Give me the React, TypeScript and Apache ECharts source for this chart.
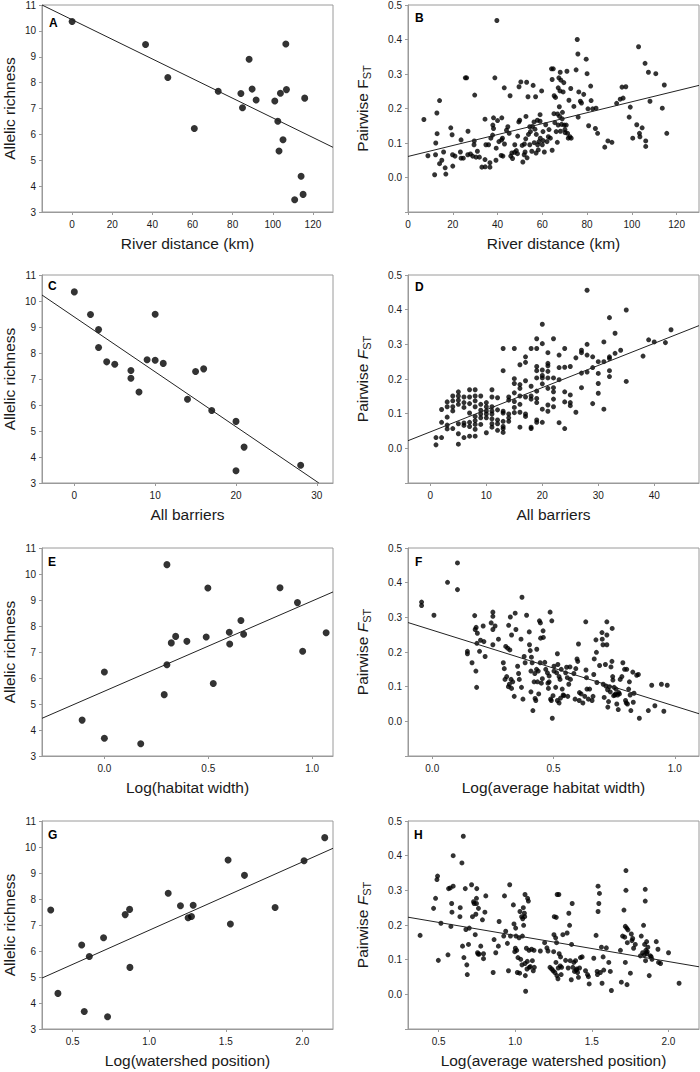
import React, { useEffect, useRef } from "react";
import * as echarts from "echarts";

// ---------- Data ----------
// Left column: allelic richness per site vs. predictor
const panelA: number[][] = [
  [0, 10.36], [36.6, 9.47], [47.7, 8.2], [60.9, 6.23], [72.8, 7.67], [84.1, 7.58], [84.9, 7.03],
  [88.2, 8.9], [89.7, 7.75], [91.7, 7.33], [101, 7.29], [102.5, 6.51], [103.1, 5.36], [103.8, 7.59],
  [106.5, 9.49], [106.8, 7.73], [105.1, 5.79], [115.9, 7.4], [114.1, 4.38], [115.1, 3.68], [110.9, 3.47],
];
const panelC: number[][] = [
  [0, 10.35], [2, 9.48], [3, 8.9], [3, 8.21], [4, 7.66], [5, 7.57], [7, 7.33], [7, 7.03], [8, 6.5],
  [9, 7.74], [10, 9.49], [10, 7.72], [11, 7.6], [14, 6.22], [15, 7.29], [16, 7.39], [17, 5.79],
  [20, 5.37], [20, 3.47], [21, 4.38], [28, 3.68],
];
const panelE: number[][] = [
  [-0.107, 4.38], [0, 6.23], [0, 3.68], [0.175, 3.47], [0.288, 5.36], [0.301, 10.36], [0.301, 6.51],
  [0.322, 7.35], [0.343, 7.6], [0.397, 7.41], [0.49, 7.58], [0.498, 9.46], [0.524, 5.79], [0.601, 7.76],
  [0.603, 7.31], [0.657, 8.21], [0.67, 7.68], [0.845, 9.47], [0.929, 8.9], [0.954, 7.03], [1.067, 7.74],
];
const panelG: number[][] = [
  [0.357, 7.58], [0.404, 4.37], [0.559, 6.23], [0.576, 3.67], [0.609, 5.79], [0.702, 6.51], [0.728, 3.47],
  [0.843, 7.4], [0.872, 7.6], [0.874, 5.37], [1.124, 8.22], [1.204, 7.74], [1.254, 7.28], [1.276, 7.33],
  [1.287, 7.76], [1.515, 9.5], [1.53, 7.04], [1.622, 8.91], [1.822, 7.67], [2.011, 9.47], [2.146, 10.36],
];

// Right column: pairwise FST vs. predictor
const panelB: number[][] = [
  [7.1,0.168],[8.9,0.063],[11.9,0.008],[12.4,0.100],[12.9,0.187],[13.0,0.127],[12.3,0.066],[14.1,0.223],[14.1,0.040],[15.1,0.050],
  [15.9,0.074],[16.6,0.028],[16.9,0.010],[19.1,0.144],[19.7,0.124],[20,0.033],[19.9,0.066],[21,0.062],[23.4,0.074],[23.7,0.109],
  [23.7,0.056],[24.7,0.056],[25.6,0.289],[26.2,0.289],[26.7,0.066],[26.8,0.134],[27.9,0.068],[28.9,0.062],[29.5,0.095],[29.6,0.106],
  [29.8,0.239],[30.4,0.059],[31,0.076],[31.9,0.059],[33,0.030],[34.4,0.052],[34.5,0.031],[34.4,0.169],[34.8,0.095],[36,0.095],
  [36.6,0.043],[36.6,0.030],[37,0.114],[37.8,0.123],[37.9,0.152],[38.2,0.173],[38.2,0.142],[38.8,0.289],[39.4,0.085],[39.7,0.455],
  [39.3,0.050],[40,0.165],[40.6,0.104],[41.6,0.064],[41.9,0.173],[41.8,0.109],[42.2,0.114],[42.4,0.062],[43,0.260],[43.1,0.097],
  [44,0.137],[44.6,0.147],[45.2,0.128],[45.6,0.237],[45.9,0.062],[46.4,0.071],[46.7,0.055],[47.6,0.073],[47.7,0.095],[48.4,0.078],
  [48.9,0.069],[49,0.120],[49.5,0.161],[49.6,0.263],[49.9,0.166],[50.4,0.277],[51,0.093],[51.3,0.045],[51.9,0.066],[52,0.097],
  [52.3,0.074],[52.6,0.112],[52.7,0.177],[53,0.276],[53.2,0.057],[53.6,0.234],[53.8,0.125],[54.4,0.147],[54.4,0.095],[54.7,0.133],
  [55.3,0.076],[55.6,0.148],[55.9,0.267],[56.3,0.161],[56.4,0.101],[56.7,0.140],[57,0.234],[57.2,0.071],[57.3,0.125],[57.8,0.166],
  [57.9,0.095],[58.2,0.080],[58.5,0.104],[59,0.182],[59,0.163],[59.1,0.114],[59.7,0.251],[60,0.095],[60.3,0.133],[60.4,0.107],
  [60.9,0.074],[61.5,0.153],[62.1,0.104],[62.7,0.118],[63,0.139],[63.6,0.114],[64.1,0.315],[64.4,0.284],[64.4,0.079],[64.9,0.315],
  [65.2,0.185],[65.3,0.237],[65.6,0.159],[65.9,0.232],[66.2,0.133],[66.7,0.102],[66.8,0.184],[67.1,0.152],[67.1,0.260],[67.4,0.289],
  [67.6,0.205],[67.7,0.177],[67.9,0.251],[68,0.305],[68.1,0.134],[68.3,0.282],[68.6,0.154],[68.9,0.170],[69,0.189],[69.3,0.248],
  [69.6,0.275],[69.8,0.152],[70.1,0.139],[70.2,0.130],[70.7,0.152],[71,0.308],[71.3,0.128],[71.6,0.114],[71.9,0.224],[72.3,0.118],
  [72.7,0.258],[72.9,0.114],[74.1,0.206],[75.1,0.312],[75.6,0.400],[75.9,0.358],[76,0.175],[76.3,0.248],[77,0.221],[77.5,0.216],
  [78.5,0.241],[79.6,0.343],[80,0.301],[80.4,0.199],[80.7,0.150],[81.6,0.265],[81.8,0.223],[82.5,0.199],[83.7,0.142],[84,0.201],
  [84.7,0.128],[87.9,0.088],[89.3,0.106],[91.1,0.102],[93.2,0.215],[94.8,0.227],[95.6,0.262],[96.1,0.230],[97.3,0.263],[98.8,0.175],
  [99.3,0.204],[100.4,0.114],[102.2,0.153],[103,0.379],[103.4,0.128],[103.6,0.118],[104.6,0.144],[105.9,0.331],[106.2,0.106],[106.2,0.090],
  [107.4,0.305],[108.1,0.221],[110.7,0.301],[113.6,0.201],[114.5,0.268],[115.6,0.128],
];
const panelD: number[][] = [
  [1,0.010],[1,0.031],[2,0.112],[2,0.075],[2,0.031],[3,0.134],[3,0.090],[3,0.067],[3,0.056],[3,0.120],
  [4,0.151],[4,0.137],[4,0.120],[4,0.108],[4,0.057],[5,0.163],[5,0.151],[5,0.139],[5,0.127],[5,0.071],[5,0.042],[5,0.012],
  [6,0.148],[6,0.132],[6,0.118],[6,0.073],[6,0.066],[6,0.031],[7,0.169],[7,0.148],[7,0.129],[7,0.102],[7,0.075],[7,0.063],[7,0.035],
  [8,0.169],[8,0.151],[8,0.137],[8,0.120],[8,0.092],[8,0.080],[8,0.069],[8,0.055],[8,0.035],
  [9,0.151],[9,0.127],[9,0.110],[9,0.099],[9,0.088],[9,0.069],[10,0.132],[10,0.120],[10,0.108],[10,0.099],[10,0.088],[10,0.045],
  [11,0.169],[11,0.148],[11,0.120],[11,0.108],[11,0.099],[11,0.085],[11,0.071],[11,0.061],
  [12,0.146],[12,0.111],[12,0.082],[12,0.071],[12,0.052],[13,0.288],[13,0.224],[13,0.107],[13,0.102],[13,0.078],[13,0.063],[13,0.057],[13,0.046],
  [14,0.148],[14,0.139],[14,0.099],[14,0.088],[14,0.078],[15,0.288],[15,0.201],[15,0.187],[15,0.160],[15,0.135],[15,0.118],[15,0.103],
  [16,0.241],[16,0.184],[16,0.173],[16,0.151],[16,0.127],[16,0.104],[16,0.061],[17,0.264],[17,0.248],[17,0.195],[17,0.148],[17,0.099],[17,0.092],
  [18,0.288],[18,0.179],[18,0.151],[18,0.142],[18,0.061],[18,0.057],
  [19,0.316],[19,0.288],[19,0.236],[19,0.224],[19,0.203],[19,0.165],[19,0.144],[19,0.132],[19,0.082],[19,0.075],
  [20,0.358],[20,0.302],[20,0.226],[20,0.210],[20,0.186],[20,0.203],[20,0.113],[20,0.075],
  [21,0.276],[21,0.245],[21,0.238],[21,0.222],[21,0.203],[21,0.173],[21,0.125],[21,0.107],
  [22,0.316],[22,0.203],[22,0.175],[22,0.163],[22,0.142],[22,0.120],[23,0.269],[23,0.233],[23,0.198],[23,0.074],
  [24,0.288],[24,0.234],[24,0.163],[24,0.134],[24,0.057],[25,0.236],[25,0.154],[25,0.132],[25,0.123],[26,0.261],[26,0.104],
  [27,0.276],[27,0.283],[27,0.217],[27,0.175],[28,0.456],[28,0.300],[28,0.269],[28,0.220],[29,0.264],[29,0.233],[29,0.129],
  [30,0.250],[30,0.216],[30,0.187],[30,0.159],[31,0.307],[31,0.250],[31,0.113],[32,0.377],[32,0.264],[32,0.259],[32,0.224],[32,0.207],
  [33,0.332],[33,0.274],[34,0.283],[35,0.399],[35,0.193],[38,0.266],[39,0.313],[40,0.307],[42,0.305],[43,0.342],
];
const panelF: number[][] = [
  [-0.044,0.344],[-0.044,0.334],[0.007,0.306],[0.063,0.401],[0.104,0.457],[0.104,0.380],[0.145,0.202],[0.145,0.195],[0.164,0.169],[0.175,0.305],
  [0.177,0.265],[0.180,0.145],[0.181,0.271],[0.183,0.098],[0.184,0.225],[0.186,0.254],[0.195,0.202],[0.199,0.234],[0.21,0.275],[0.213,0.230],
  [0.218,0.187],[0.243,0.284],[0.25,0.315],[0.25,0.303],[0.25,0.265],[0.25,0.221],[0.259,0.275],[0.273,0.237],[0.293,0.169],[0.297,0.152],
  [0.3,0.121],[0.303,0.216],[0.307,0.129],[0.311,0.211],[0.314,0.100],[0.315,0.277],[0.318,0.107],[0.32,0.206],[0.322,0.301],[0.325,0.121],
  [0.327,0.249],[0.327,0.095],[0.332,0.114],[0.338,0.072],[0.342,0.312],[0.345,0.265],[0.352,0.159],[0.356,0.138],[0.359,0.121],[0.366,0.237],
  [0.368,0.098],[0.37,0.358],[0.374,0.064],[0.379,0.187],[0.383,0.169],[0.389,0.306],[0.4,0.258],[0.401,0.221],[0.404,0.204],[0.407,0.145],
  [0.407,0.085],[0.409,0.185],[0.412,0.169],[0.415,0.031],[0.42,0.114],[0.423,0.138],[0.424,0.066],[0.427,0.060],[0.43,0.150],[0.431,0.208],
  [0.434,0.114],[0.437,0.145],[0.439,0.079],[0.442,0.290],[0.445,0.169],[0.446,0.284],[0.447,0.240],[0.45,0.110],[0.454,0.123],[0.457,0.261],
  [0.458,0.242],[0.464,0.170],[0.468,0.150],[0.475,0.140],[0.477,0.110],[0.479,0.095],[0.482,0.131],[0.482,0.114],[0.486,0.315],[0.488,0.064],
  [0.491,0.060],[0.493,0.290],[0.495,0.009],[0.498,0.074],[0.502,0.159],[0.502,0.145],[0.509,0.098],[0.513,0.140],[0.516,0.195],[0.516,0.060],
  [0.518,0.164],[0.523,0.129],[0.523,0.053],[0.527,0.121],[0.529,0.067],[0.532,0.150],[0.536,0.093],[0.54,0.076],[0.543,0.074],[0.55,0.140],
  [0.554,0.156],[0.557,0.126],[0.559,0.072],[0.563,0.107],[0.568,0.157],[0.57,0.121],[0.584,0.138],[0.589,0.064],[0.592,0.152],[0.597,0.180],
  [0.6,0.173],[0.603,0.223],[0.606,0.060],[0.607,0.083],[0.614,0.079],[0.621,0.053],[0.629,0.072],[0.633,0.287],[0.634,0.148],[0.636,0.126],
  [0.638,0.093],[0.644,0.064],[0.649,0.093],[0.659,0.060],[0.663,0.072],[0.666,0.135],[0.668,0.180],[0.675,0.235],[0.677,0.199],[0.679,0.112],
  [0.69,0.161],[0.7,0.256],[0.701,0.237],[0.704,0.221],[0.705,0.107],[0.709,0.069],[0.714,0.164],[0.716,0.102],[0.72,0.287],[0.72,0.249],
  [0.72,0.221],[0.723,0.091],[0.724,0.041],[0.727,0.057],[0.731,0.100],[0.734,0.085],[0.737,0.157],[0.741,0.173],[0.742,0.268],[0.744,0.129],
  [0.745,0.119],[0.748,0.074],[0.75,0.098],[0.753,0.076],[0.756,0.079],[0.758,0.093],[0.761,0.050],[0.764,0.076],[0.767,0.034],[0.769,0.083],
  [0.772,0.079],[0.775,0.121],[0.782,0.129],[0.786,0.169],[0.793,0.150],[0.797,0.060],[0.8,0.053],[0.802,0.150],[0.805,0.050],[0.81,0.093],
  [0.813,0.114],[0.816,0.076],[0.819,0.031],[0.827,0.142],[0.829,0.055],[0.832,0.081],[0.843,0.133],[0.85,0.135],[0.854,0.009],[0.891,0.031],
  [0.905,0.104],[0.918,0.045],[0.945,0.107],[0.955,0.029],[0.969,0.104],
];
const panelH: number[][] = [
  [0.379,0.170],[0.467,0.248],[0.48,0.277],[0.489,0.331],[0.493,0.341],[0.498,0.098],[0.515,0.205],[0.561,0.114],[0.565,0.305],[0.576,0.307],
  [0.58,0.196],[0.585,0.262],[0.587,0.237],[0.595,0.312],[0.595,0.400],[0.641,0.250],[0.639,0.224],[0.652,0.379],[0.661,0.456],[0.656,0.139],
  [0.665,0.106],[0.674,0.305],[0.678,0.187],[0.684,0.085],[0.687,0.057],[0.695,0.144],[0.7,0.191],[0.715,0.316],[0.721,0.224],[0.728,0.267],
  [0.732,0.262],[0.739,0.172],[0.743,0.231],[0.747,0.277],[0.747,0.262],[0.749,0.305],[0.754,0.120],[0.758,0.116],[0.76,0.248],[0.765,0.116],
  [0.775,0.139],[0.786,0.215],[0.793,0.117],[0.793,0.103],[0.802,0.237],[0.808,0.284],[0.856,0.063],[0.862,0.158],[0.873,0.120],[0.89,0.139],
  [0.895,0.210],[0.925,0.168],[0.93,0.284],[0.938,0.182],[0.949,0.147],[0.956,0.068],[0.964,0.316],[0.969,0.168],[0.988,0.258],[0.992,0.203],
  [0.997,0.123],[1.001,0.133],[1.003,0.191],[1.005,0.168],[1.01,0.127],[1.014,0.063],[1.018,0.106],[1.025,0.163],[1.029,0.061],[1.031,0.239],
  [1.036,0.101],[1.042,0.224],[1.044,0.085],[1.047,0.168],[1.049,0.218],[1.053,0.250],[1.055,0.199],[1.06,0.234],[1.062,0.224],[1.064,0.288],
  [1.064,0.089],[1.066,0.054],[1.068,0.009],[1.073,0.133],[1.077,0.073],[1.079,0.095],[1.081,0.277],[1.086,0.269],[1.09,0.127],[1.092,0.078],
  [1.099,0.080],[1.107,0.130],[1.112,0.097],[1.118,0.068],[1.123,0.127],[1.125,0.078],[1.164,0.125],[1.192,0.149],[1.207,0.134],[1.214,0.125],
  [1.227,0.078],[1.238,0.073],[1.248,0.068],[1.251,0.123],[1.253,0.172],[1.255,0.224],[1.259,0.063],[1.264,0.163],[1.266,0.092],[1.268,0.222],
  [1.27,0.149],[1.272,0.054],[1.274,0.288],[1.279,0.045],[1.281,0.076],[1.285,0.288],[1.287,0.117],[1.294,0.082],[1.296,0.108],[1.3,0.057],
  [1.303,0.078],[1.311,0.172],[1.329,0.098],[1.339,0.177],[1.346,0.076],[1.35,0.234],[1.355,0.199],[1.359,0.097],[1.366,0.042],[1.368,0.144],
  [1.372,0.262],[1.376,0.078],[1.383,0.092],[1.387,0.066],[1.394,0.097],[1.398,0.070],[1.402,0.073],[1.407,0.063],[1.413,0.049],[1.42,0.076],
  [1.426,0.106],[1.437,0.108],[1.459,0.068],[1.472,0.057],[1.478,0.051],[1.483,0.030],[1.513,0.104],[1.528,0.170],[1.535,0.066],[1.537,0.057],
  [1.541,0.312],[1.541,0.239],[1.546,0.262],[1.55,0.291],[1.556,0.063],[1.563,0.136],[1.567,0.032],[1.574,0.108],[1.578,0.070],[1.595,0.134],
  [1.611,0.092],[1.621,0.066],[1.628,0.011],[1.687,0.127],[1.693,0.035],[1.701,0.168],[1.71,0.243],[1.715,0.165],[1.719,0.196],[1.719,0.092],
  [1.723,0.300],[1.723,0.357],[1.728,0.191],[1.73,0.028],[1.732,0.149],[1.736,0.186],[1.752,0.061],[1.758,0.174],[1.762,0.155],[1.767,0.161],
  [1.773,0.133],[1.784,0.144],[1.817,0.111],[1.823,0.168],[1.832,0.120],[1.838,0.199],[1.843,0.114],[1.845,0.144],[1.849,0.269],[1.849,0.303],
  [1.851,0.097],[1.853,0.127],[1.858,0.152],[1.86,0.117],[1.862,0.123],[1.866,0.136],[1.875,0.054],[1.882,0.111],[1.888,0.108],[1.893,0.101],
  [1.921,0.152],[1.932,0.130],[1.936,0.092],[1.949,0.089],[2.001,0.120],[2.07,0.032],
];

// Regression line end points
const fitA = [[-15, 11.0], [130, 5.5]];
const fitB = [[0, 0.061], [130, 0.267]];
const fitC = [[-4, 10.23], [30.25, 3]];
const fitD = [[-4, 0.022], [48, 0.354]];
const fitE = [[-0.3, 4.45], [1.1, 9.31]];
const fitF = [[-0.1, 0.285], [1.1, 0.022]];
const fitG = [[0.3, 4.96], [2.2, 9.95]];
const fitH = [[0.3, 0.2225], [2.2, 0.0795]];

// Tick labels
const ticksRiver = [0, 20, 40, 60, 80, 100, 120];
const ticksBarrierC = [0, 10, 20, 30];
const ticksBarrierD = [0, 10, 20, 30, 40];
const ticksHabitat = [0, 0.5, 1.0];
const ticksWatershed = [0.5, 1.0, 1.5, 2.0];

const xTitles = [
  "River distance (km)", "River distance (km)",
  "All barriers", "All barriers",
  "Log(habitat width)", "Log(average habitat width)",
  "Log(watershed position)", "Log(average watershed position)",
];
const panelLetters = ["A", "B", "C", "D", "E", "F", "G", "H"];

const FONT = "'Liberation Sans', Arial, Helvetica, sans-serif";
const FRAME = "#9a9a9a";
const TXT = "#1a1a1a";

export default function App() {
  const ref = useRef<HTMLDivElement>(null);

  useEffect(() => {
    const chart = echarts.init(ref.current as HTMLDivElement, null, { renderer: "svg" });

    const panels = [
      { pts: panelA, fit: fitA, xMin: -15, xMax: 130, ticks: ticksRiver, dec: 0 },
      { pts: panelB, fit: fitB, xMin: 0, xMax: 130, ticks: ticksRiver, dec: 0 },
      { pts: panelC, fit: fitC, xMin: -4, xMax: 32, ticks: ticksBarrierC, dec: 0 },
      { pts: panelD, fit: fitD, xMin: -4, xMax: 48, ticks: ticksBarrierD, dec: 0 },
      { pts: panelE, fit: fitE, xMin: -0.3, xMax: 1.1, ticks: ticksHabitat, dec: 1 },
      { pts: panelF, fit: fitF, xMin: -0.1, xMax: 1.1, ticks: ticksHabitat, dec: 1 },
      { pts: panelG, fit: fitG, xMin: 0.3, xMax: 2.2, ticks: ticksWatershed, dec: 1 },
      { pts: panelH, fit: fitH, xMin: 0.3, xMax: 2.2, ticks: ticksWatershed, dec: 1 },
    ];

    const lefts = [42, 408];
    const tops = [4, 275, 548, 821];
    const letterPos = [
      [49, 17], [415, 12], [48, 280], [415, 281], [48, 556], [415, 556], [48, 829], [414, 829],
    ];

    const grids: any[] = [];
    const xAxes: any[] = [];
    const yAxes: any[] = [];
    const series: any[] = [];
    const graphics: any[] = [];

    panels.forEach((p, i) => {
      const col = i % 2;
      const row = Math.floor(i / 2);
      const isRight = col === 1;
      grids.push({
        left: lefts[col], top: tops[row], width: 291, height: 208,
        show: true, borderColor: FRAME, borderWidth: 1, backgroundColor: "transparent",
      });
      xAxes.push({
        type: "value", gridIndex: i, min: p.xMin, max: p.xMax,
        name: xTitles[i], nameLocation: "middle", nameGap: 23,
        nameTextStyle: { fontFamily: FONT, fontSize: 15.5, color: TXT },
        axisLine: { show: true, onZero: false, lineStyle: { color: FRAME, width: 1 } },
        axisTick: { show: true, inside: false, length: 3, lineStyle: { color: FRAME }, customValues: p.ticks },
        axisLabel: {
          show: true, margin: 7, fontFamily: FONT, fontSize: 10, color: TXT,
          customValues: p.ticks,
          formatter: (v: number) => (p.dec ? v.toFixed(1) : String(Math.round(v))),
        },
        splitLine: { show: false },
      });
      if (isRight) {
        const italic = i !== 1;
        yAxes.push({
          type: "value", gridIndex: i, min: -0.1, max: 0.5, interval: 0.1,
          name: "{a|Pairwise }{f|F}{s|ST}", nameLocation: "middle", nameGap: 36, nameRotate: 90,
          nameTextStyle: {
            fontFamily: FONT, fontSize: 15.5, color: TXT,
            rich: {
              a: { fontFamily: FONT, fontSize: 15.5, color: TXT, lineHeight: 20 },
              f: { fontFamily: FONT, fontSize: 15.5, color: TXT, lineHeight: 20, fontStyle: italic ? "italic" : "normal" },
              s: { fontFamily: FONT, fontSize: 11, color: TXT, lineHeight: 11, verticalAlign: "bottom" },
            },
          },
          axisLine: { show: true, onZero: false, lineStyle: { color: FRAME, width: 1 } },
          axisTick: { show: true, inside: false, length: 3, lineStyle: { color: FRAME } },
          axisLabel: {
            margin: 6, fontFamily: FONT, fontSize: 10, color: TXT,
            formatter: (v: number) => (v < -0.05 ? "" : v.toFixed(1)),
          },
          splitLine: { show: false },
        });
      } else {
        yAxes.push({
          type: "value", gridIndex: i, min: 3, max: 11, interval: 1,
          name: "Allelic richness", nameLocation: "middle", nameGap: 25, nameRotate: 90,
          nameTextStyle: { fontFamily: FONT, fontSize: 15.5, color: TXT },
          axisLine: { show: true, onZero: false, lineStyle: { color: FRAME, width: 1 } },
          axisTick: { show: true, inside: false, length: 3, lineStyle: { color: FRAME } },
          axisLabel: { margin: 6, fontFamily: FONT, fontSize: 10, color: TXT },
          splitLine: { show: false },
        });
      }
      series.push({
        type: "scatter", xAxisIndex: i, yAxisIndex: i, data: p.pts,
        symbol: "circle", symbolSize: isRight ? 5 : 7,
        itemStyle: { color: "#000" }, silent: true,
      });
      series.push({
        type: "line", xAxisIndex: i, yAxisIndex: i, data: p.fit,
        symbol: "none", lineStyle: { color: "#222", width: 1 }, silent: true, clip: true,
      });
      graphics.push({
        type: "text", left: letterPos[i][0], top: letterPos[i][1],
        style: { text: panelLetters[i], font: `bold 12px ${FONT}`, fill: "#000" },
      });
    });

    chart.setOption({
      animation: false,
      backgroundColor: "#fff",
      grid: grids,
      xAxis: xAxes,
      yAxis: yAxes,
      series,
      graphic: graphics,
    });

    return () => chart.dispose();
  }, []);

  return (
    <div
      ref={ref}
      style={{ position: "absolute", left: 0, top: 0, width: 700, height: 1072, background: "#fff" }}
    />
  );
}
